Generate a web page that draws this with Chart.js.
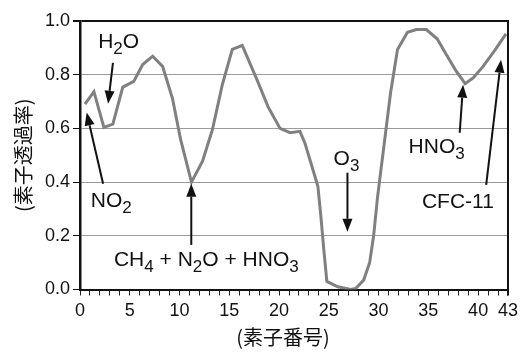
<!DOCTYPE html>
<html>
<head>
<meta charset="utf-8">
<script src="https://cdn.jsdelivr.net/npm/chart.js@4/dist/chart.umd.min.js"></script>
<style>
  html, body { margin: 0; padding: 0; background: #fff; }
  canvas { display: block; }
</style>
</head>
<body>
<canvas id="c" width="523" height="352"></canvas>
<script>
// Element positions along the detector array and their transmittance
const elementPos = [0.5, 1.4, 2.4, 3.3, 4.3, 5.4, 6.3, 7.3, 8.3, 9.3,
  10.1, 11.2, 12.3, 13.3, 14.3, 15.3, 16.3, 17.8, 18.9, 20.1,
  21.1, 22.1, 22.6, 23.2, 23.9, 24.2, 24.5, 24.8, 25.9, 27.2,
  27.7, 28.5, 29.1, 29.5, 29.9, 31.2, 31.9, 32.9, 33.8, 34.8,
  35.9, 36.8, 37.8, 38.7, 39.5, 40.5, 41.6, 42.8];
const transmittance = [0.69, 0.737, 0.604, 0.616, 0.754, 0.775, 0.838, 0.869, 0.831, 0.71,
  0.56, 0.40, 0.477, 0.595, 0.763, 0.894, 0.909, 0.78, 0.68, 0.60,
  0.584, 0.589, 0.545, 0.471, 0.384, 0.272, 0.147, 0.03, 0.01, 0.0,
  0.004, 0.035, 0.1, 0.2, 0.346, 0.732, 0.894, 0.958, 0.968, 0.968,
  0.933, 0.875, 0.813, 0.767, 0.788, 0.831, 0.887, 0.952];

const yTickValues = [0, 0.2, 0.4, 0.6, 0.8, 1.0];
const xLabelValues = [0, 5, 10, 15, 20, 25, 30, 35, 40, 43];

// Absorbing species: text pieces ([text, isSubscript]) and where they sit (data units)
const gasLabels = [
  { parts: [['H', 0], ['2', 1], ['O', 0]], x: 3.88, y: 0.901 },
  { parts: [['NO', 0], ['2', 1]], x: 3.14, y: 0.308 },
  { parts: [['CH', 0], ['4', 1], [' + N', 0], ['2', 1], ['O + HNO', 0], ['3', 1]], x: 12.69, y: 0.088 },
  { parts: [['O', 0], ['3', 1]], x: 26.77, y: 0.465 },
  { parts: [['HNO', 0], ['3', 1]], x: 35.83, y: 0.508 },
  { parts: [['CFC-11', 0]], x: 37.97, y: 0.305 }
];
const gasArrows = [
  { from: [3.31, 0.844], to: [2.82, 0.692] },
  { from: [2.32, 0.394], to: [0.67, 0.659] },
  { from: [11.18, 0.166], to: [11.18, 0.394] },
  { from: [26.87, 0.435], to: [26.87, 0.215] },
  { from: [38.15, 0.584], to: [38.49, 0.763] },
  { from: [40.81, 0.39], to: [42.3, 0.856] }
];

const LATIN = '"Liberation Sans", Arial, sans-serif';
const CJK = '"Noto Sans CJK JP", "Noto Sans CJK SC", sans-serif';

const annotate = {
  id: 'annotate',
  afterDatasetsDraw(chart) {
    const { ctx, chartArea: a, scales: { x, y } } = chart;
    ctx.save();
    ctx.strokeStyle = '#111';
    ctx.fillStyle = '#111';

    // right edge of the frame
    ctx.lineWidth = 2;
    ctx.beginPath();
    ctx.moveTo(a.right, a.top - 1);
    ctx.lineTo(a.right, a.bottom + 6);
    ctx.stroke();

    // arrows pointing at absorption features
    gasArrows.forEach(ar => {
      const x0 = x.getPixelForValue(ar.from[0]), y0 = y.getPixelForValue(ar.from[1]);
      const x1 = x.getPixelForValue(ar.to[0]), y1 = y.getPixelForValue(ar.to[1]);
      const ang = Math.atan2(y1 - y0, x1 - x0);
      const L = 13, W = 5;
      const bx = x1 - L * Math.cos(ang), by = y1 - L * Math.sin(ang);
      ctx.lineWidth = 2;
      ctx.beginPath();
      ctx.moveTo(x0, y0);
      ctx.lineTo(bx, by);
      ctx.stroke();
      ctx.beginPath();
      ctx.moveTo(x1, y1);
      ctx.lineTo(bx + W * Math.sin(ang), by - W * Math.cos(ang));
      ctx.lineTo(bx - W * Math.sin(ang), by + W * Math.cos(ang));
      ctx.closePath();
      ctx.fill();
    });

    // species names with subscripts
    const mainFont = '21px ' + LATIN, subFont = '17px ' + LATIN;
    ctx.textBaseline = 'alphabetic';
    ctx.textAlign = 'left';
    gasLabels.forEach(l => {
      let total = 0;
      const widths = l.parts.map(([t, sub]) => {
        ctx.font = sub ? subFont : mainFont;
        const w = ctx.measureText(t).width;
        total += w;
        return w;
      });
      let px = x.getPixelForValue(l.x) - total / 2;
      const base = y.getPixelForValue(l.y);
      l.parts.forEach(([t, sub], i) => {
        ctx.font = sub ? subFont : mainFont;
        ctx.fillText(t, px, sub ? base + 6 : base);
        px += widths[i];
      });
    });

    // horizontal axis title
    ctx.font = '20px ' + CJK;
    ctx.textAlign = 'center';
    ctx.textBaseline = 'middle';
    ctx.fillText('(素子番号)', x.getPixelForValue(20.4), 337);
    ctx.restore();
  }
};

new Chart(document.getElementById('c'), {
  type: 'line',
  data: {
    datasets: [{
      data: elementPos.map((p, i) => ({ x: p, y: transmittance[i] })),
      borderColor: '#808080',
      borderWidth: 3,
      pointRadius: 0,
      tension: 0,
      fill: false
    }]
  },
  options: {
    responsive: false,
    animation: false,
    layout: { padding: { top: 21, right: 11, bottom: 0, left: 0 } },
    plugins: { legend: { display: false }, tooltip: { enabled: false } },
    scales: {
      x: {
        type: 'linear',
        min: 0,
        max: 43,
        afterBuildTicks(scale) {
          const t = [];
          for (let v = 0; v <= 43; v++) t.push({ value: v });
          scale.ticks = t;
        },
        afterFit(scale) { scale.height = 62.5; },
        grid: { drawOnChartArea: false, tickColor: '#222', tickLength: 6, tickWidth: 1 },
        border: { color: '#111', width: 2 },
        ticks: {
          autoSkip: false,
          maxRotation: 0,
          padding: 5,
          color: '#111',
          font: { family: LATIN, size: 18 },
          callback: v => (xLabelValues.includes(v) ? String(v) : '')
        }
      },
      y: {
        min: 0,
        max: 1,
        afterBuildTicks(scale) { scale.ticks = yTickValues.map(v => ({ value: v })); },
        afterFit(scale) { scale.width = 80; },
        grid: {
          color: c => (c.tick && c.tick.value === 1 ? '#111' : '#9a9a9a'),
          lineWidth: c => (c.tick && c.tick.value === 1 ? 2 : 1),
          tickColor: '#111',
          tickLength: 7
        },
        border: { color: '#111', width: 2.5 },
        ticks: {
          padding: 3,
          color: '#111',
          font: { family: LATIN, size: 18 },
          callback: v => v.toFixed(1)
        },
        title: {
          display: true,
          text: '(素子透過率)',
          color: '#111',
          font: { family: CJK, size: 20 },
          padding: { top: 11, bottom: 0 }
        }
      }
    }
  },
  plugins: [annotate]
});
</script>
</body>
</html>
